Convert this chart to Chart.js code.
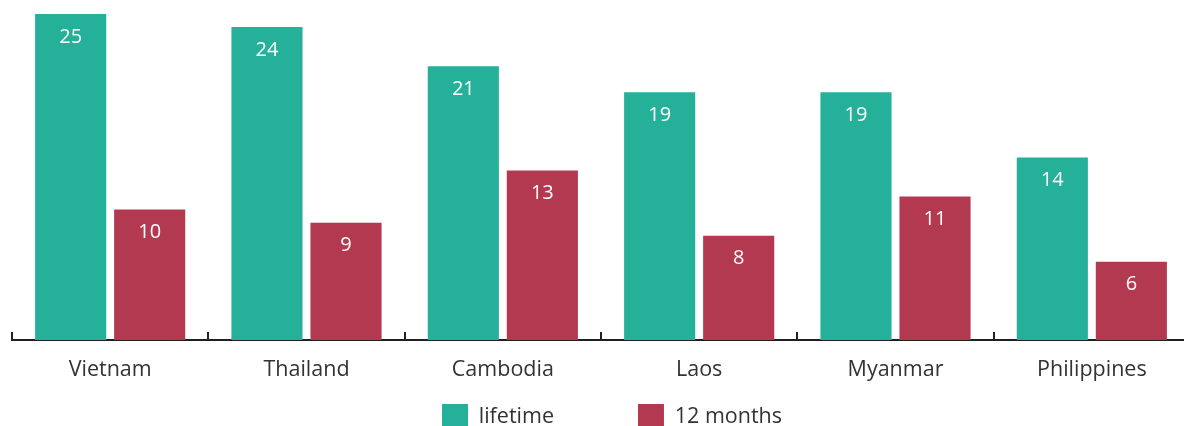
<!DOCTYPE html>
<html>
<head>
<meta charset="utf-8">
<script src="https://cdn.jsdelivr.net/npm/chart.js@4"></script>
<style>
html,body{margin:0;padding:0;overflow:hidden;background:#fff;}
#wrap{position:relative;width:1192px;height:440px;}
</style>
</head>
<body>
<div id="wrap"><canvas id="c"></canvas></div>
<script>
const categories = ['Vietnam', 'Thailand', 'Cambodia', 'Laos', 'Myanmar', 'Philippines'];
const lifetime = [25, 24, 21, 19, 19, 14];
const months12 = [10, 9, 13, 8, 11, 6];
const seriesNames = ['lifetime', '12 months'];
const colors = ['#25B09A', '#B33950'];
const FONT = '"Open Sans"';

const valueLabels = {
  id: 'valueLabels',
  afterDatasetsDraw(chart) {
    const ctx = chart.ctx;
    ctx.save();
    ctx.fillStyle = '#ffffff';
    ctx.font = '20px ' + FONT;
    ctx.textAlign = 'center';
    ctx.textBaseline = 'middle';
    chart.data.datasets.forEach((ds, i) => {
      const meta = chart.getDatasetMeta(i);
      meta.data.forEach((bar, j) => {
        ctx.fillText(String(ds.data[j]), bar.x, bar.y + 23);
      });
    });
    ctx.restore();
  }
};

const legendPlace = {
  id: 'legendPlace',
  afterLayout(chart) {
    const lg = chart.legend;
    if (!lg) return;
    const p = lg.options.labels.padding;
    lg.top = 404 - p;
    lg.bottom = 440;
    lg.height = lg.bottom - lg.top;
    lg.left += 11;
    lg.right += 11;
  }
};

new Chart(document.getElementById('c'), {
  type: 'bar',
  data: {
    labels: categories,
    datasets: [
      {label: seriesNames[0], data: lifetime, backgroundColor: colors[0], categoryPercentage: 0.805, barPercentage: 0.9},
      {label: seriesNames[1], data: months12, backgroundColor: colors[1], categoryPercentage: 0.805, barPercentage: 0.9}
    ]
  },
  options: {
    responsive: true,
    maintainAspectRatio: false,
    animation: false,
    layout: {padding: {top: 14, left: 12, right: 2, bottom: 0}},
    plugins: {
      tooltip: {enabled: false},
      legend: {
        position: 'bottom',
        maxHeight: 46,
        labels: {
          boxWidth: 26, boxHeight: 26, padding: 84,
          color: '#333333',
          font: {family: FONT, size: 21.5}
        }
      }
    },
    scales: {
      x: {
        grid: {display: true, drawOnChartArea: false, drawTicks: true, tickLength: -8, color: '#231F20', lineWidth: 2, offset: true},
        border: {display: true, color: '#231F20', width: 2},
        ticks: {color: '#333333', font: {family: FONT, size: 21.5}, padding: 25, maxRotation: 0},
        afterFit(s) { s.height = 54; }
      },
      y: {display: false, min: 0, max: 25}
    }
  },
  plugins: [valueLabels, legendPlace]
});
</script>
</body>
</html>
